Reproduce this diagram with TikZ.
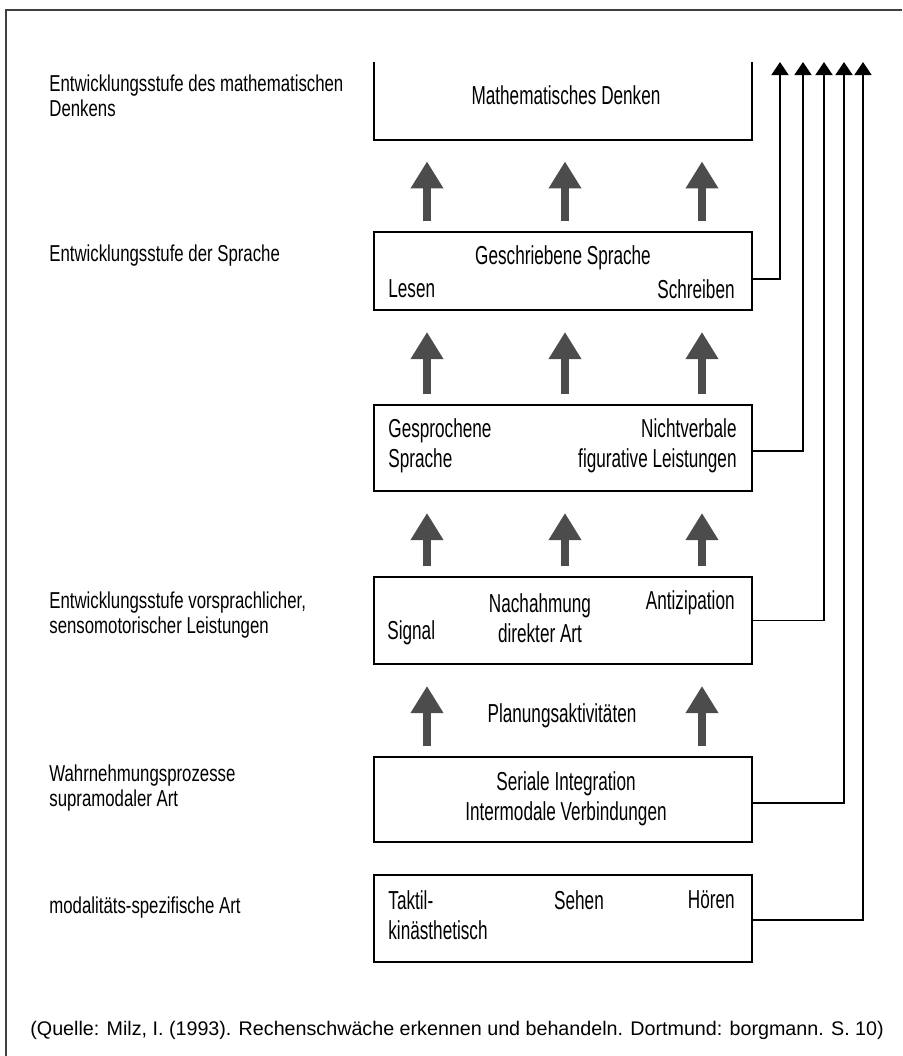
\documentclass[tikz,border=0pt]{standalone}
\usepackage{fontspec}
\setmainfont{Liberation Sans}
\newfontfamily\stufenfont{Liberation Sans}[FakeStretch=0.73]
\newfontfamily\kastenfont{Liberation Sans}[FakeStretch=0.66]
\usetikzlibrary{arrows.meta}

\begin{document}
\begin{tikzpicture}[x=0.5pt, y=-0.5pt,
    kasten/.style={draw, line width=1pt, minimum width=189pt, inner sep=0pt},
    ktext/.style={inner sep=0pt, font=\kastenfont\fontsize{13}{15}\selectfont},
    stufe/.style={inner sep=0pt, anchor=west, align=left, font=\stufenfont\fontsize{11.5}{12.5}\selectfont},
    hoch/.style={draw=black!70, line width=4pt, -{Triangle[width=15.5pt, length=13.5pt]}, shorten <=5pt, shorten >=10.5pt},
    zug/.style={line width=0.8pt, -{Triangle[width=8.5pt, length=6.5pt]}}]
        \useasboundingbox (0,0) rectangle (902,1056);

        \coordinate (links) at (427,0);
        \coordinate (mitte) at (565,0);
        \coordinate (rechts) at (702,0);
        \coordinate (t1) at (780,62);
        \coordinate (t2) at (803,62);
        \coordinate (t3) at (824,62);
        \coordinate (t4) at (844,62);
        \coordinate (t5) at (863,62);

        \node[minimum width=189pt, minimum height=39pt, inner sep=0pt] (denken) at (563,101) {};
        \node[kasten, minimum height=39pt] (schrift) at (563,271) {};
        \node[kasten, minimum height=43pt] (sprache) at (563,448) {};
        \node[kasten, minimum height=43.5pt] (senso) at (563,620.5) {};
        \node[kasten, minimum height=42.5pt] (supra) at (563,799.5) {};
        \node[kasten, minimum height=43.5pt] (modal) at (563,918.5) {};

        \draw[black!75, line width=1pt] (6,1056) -- (6,10) -- (902,10);
        \draw[line width=1pt] (denken.north west) -- (denken.south west) -- (denken.south east) -- (denken.north east);

        \foreach \s in {links, mitte, rechts} {
            \draw[hoch] (\s |- schrift.north) -- (\s |- denken.south);
            \draw[hoch] (\s |- sprache.north) -- (\s |- schrift.south);
            \draw[hoch] (\s |- senso.north) -- (\s |- sprache.south);
        }
        \draw[hoch] (links |- supra.north) -- (links |- senso.south);
        \draw[hoch] (rechts |- supra.north) -- (rechts |- senso.south);

        \draw[zug] ([yshift=-4pt]schrift.east) -| (t1);
        \draw[zug] ([yshift=-1.5pt]sprache.east) -| (t2);
        \draw[zug] (senso.east) -| (t3);
        \draw[zug] ([yshift=-1.75pt]supra.east) -| (t4);
        \draw[zug] ([yshift=-0.75pt]modal.east) -| (t5);

        \node[ktext] (md) at (566,95) {Mathematisches Denken};
        \node[ktext] (gs) at (563,258) {Geschriebene Sprache};
        \node[ktext, anchor=west] (le) at (388,289) {Lesen};
        \node[ktext, anchor=east] (sb) at (735,289) {Schreiben};
        \node[ktext, anchor=west, align=left] (gsp) at (388,445.5) {Gesprochene\\Sprache};
        \node[ktext, anchor=east, align=right] (nv) at (737,445.5) {Nichtverbale\\figurative Leistungen};
        \node[ktext, align=center] (na) at (540,618) {Nachahmung\\direkter Art};
        \node[ktext, anchor=east] (an) at (735,603) {Antizipation};
        \node[ktext, anchor=west] (si) at (387,633) {Signal};
        \node[ktext] (pl) at (562,716) {Planungsaktivitäten};
        \node[ktext, align=center] (se) at (566,798.5) {Seriale Integration\\Intermodale Verbindungen};
        \node[ktext, anchor=west, align=left] (ta) at (388,915.5) {Taktil-\\kinästhetisch};
        \node[ktext] (sh) at (579,900) {Sehen};
        \node[ktext, anchor=east] (hr) at (735,900) {Hören};

        \node[stufe] (s1) at (49,95.5) {Entwicklungsstufe des mathematischen\\Denkens};
        \node[stufe] (s2) at (49,256) {Entwicklungsstufe der Sprache};
        \node[stufe] (s3) at (49,615.5) {Entwicklungsstufe vorsprachlicher,\\sensomotorischer Leistungen};
        \node[stufe] (s4) at (49,788.5) {Wahrnehmungsprozesse\\supramodaler Art};
        \node[stufe] (s5) at (49,908) {modalitäts-spezifische Art};

        \node[anchor=west, inner sep=0pt, font=\fontsize{9.85}{12}\selectfont] (quelle) at (30,1030) {(Quelle: Milz, I. (1993). Rechenschwäche erkennen und behandeln. Dortmund: borgmann. S. 10)};

    \end{tikzpicture}
\end{document}
